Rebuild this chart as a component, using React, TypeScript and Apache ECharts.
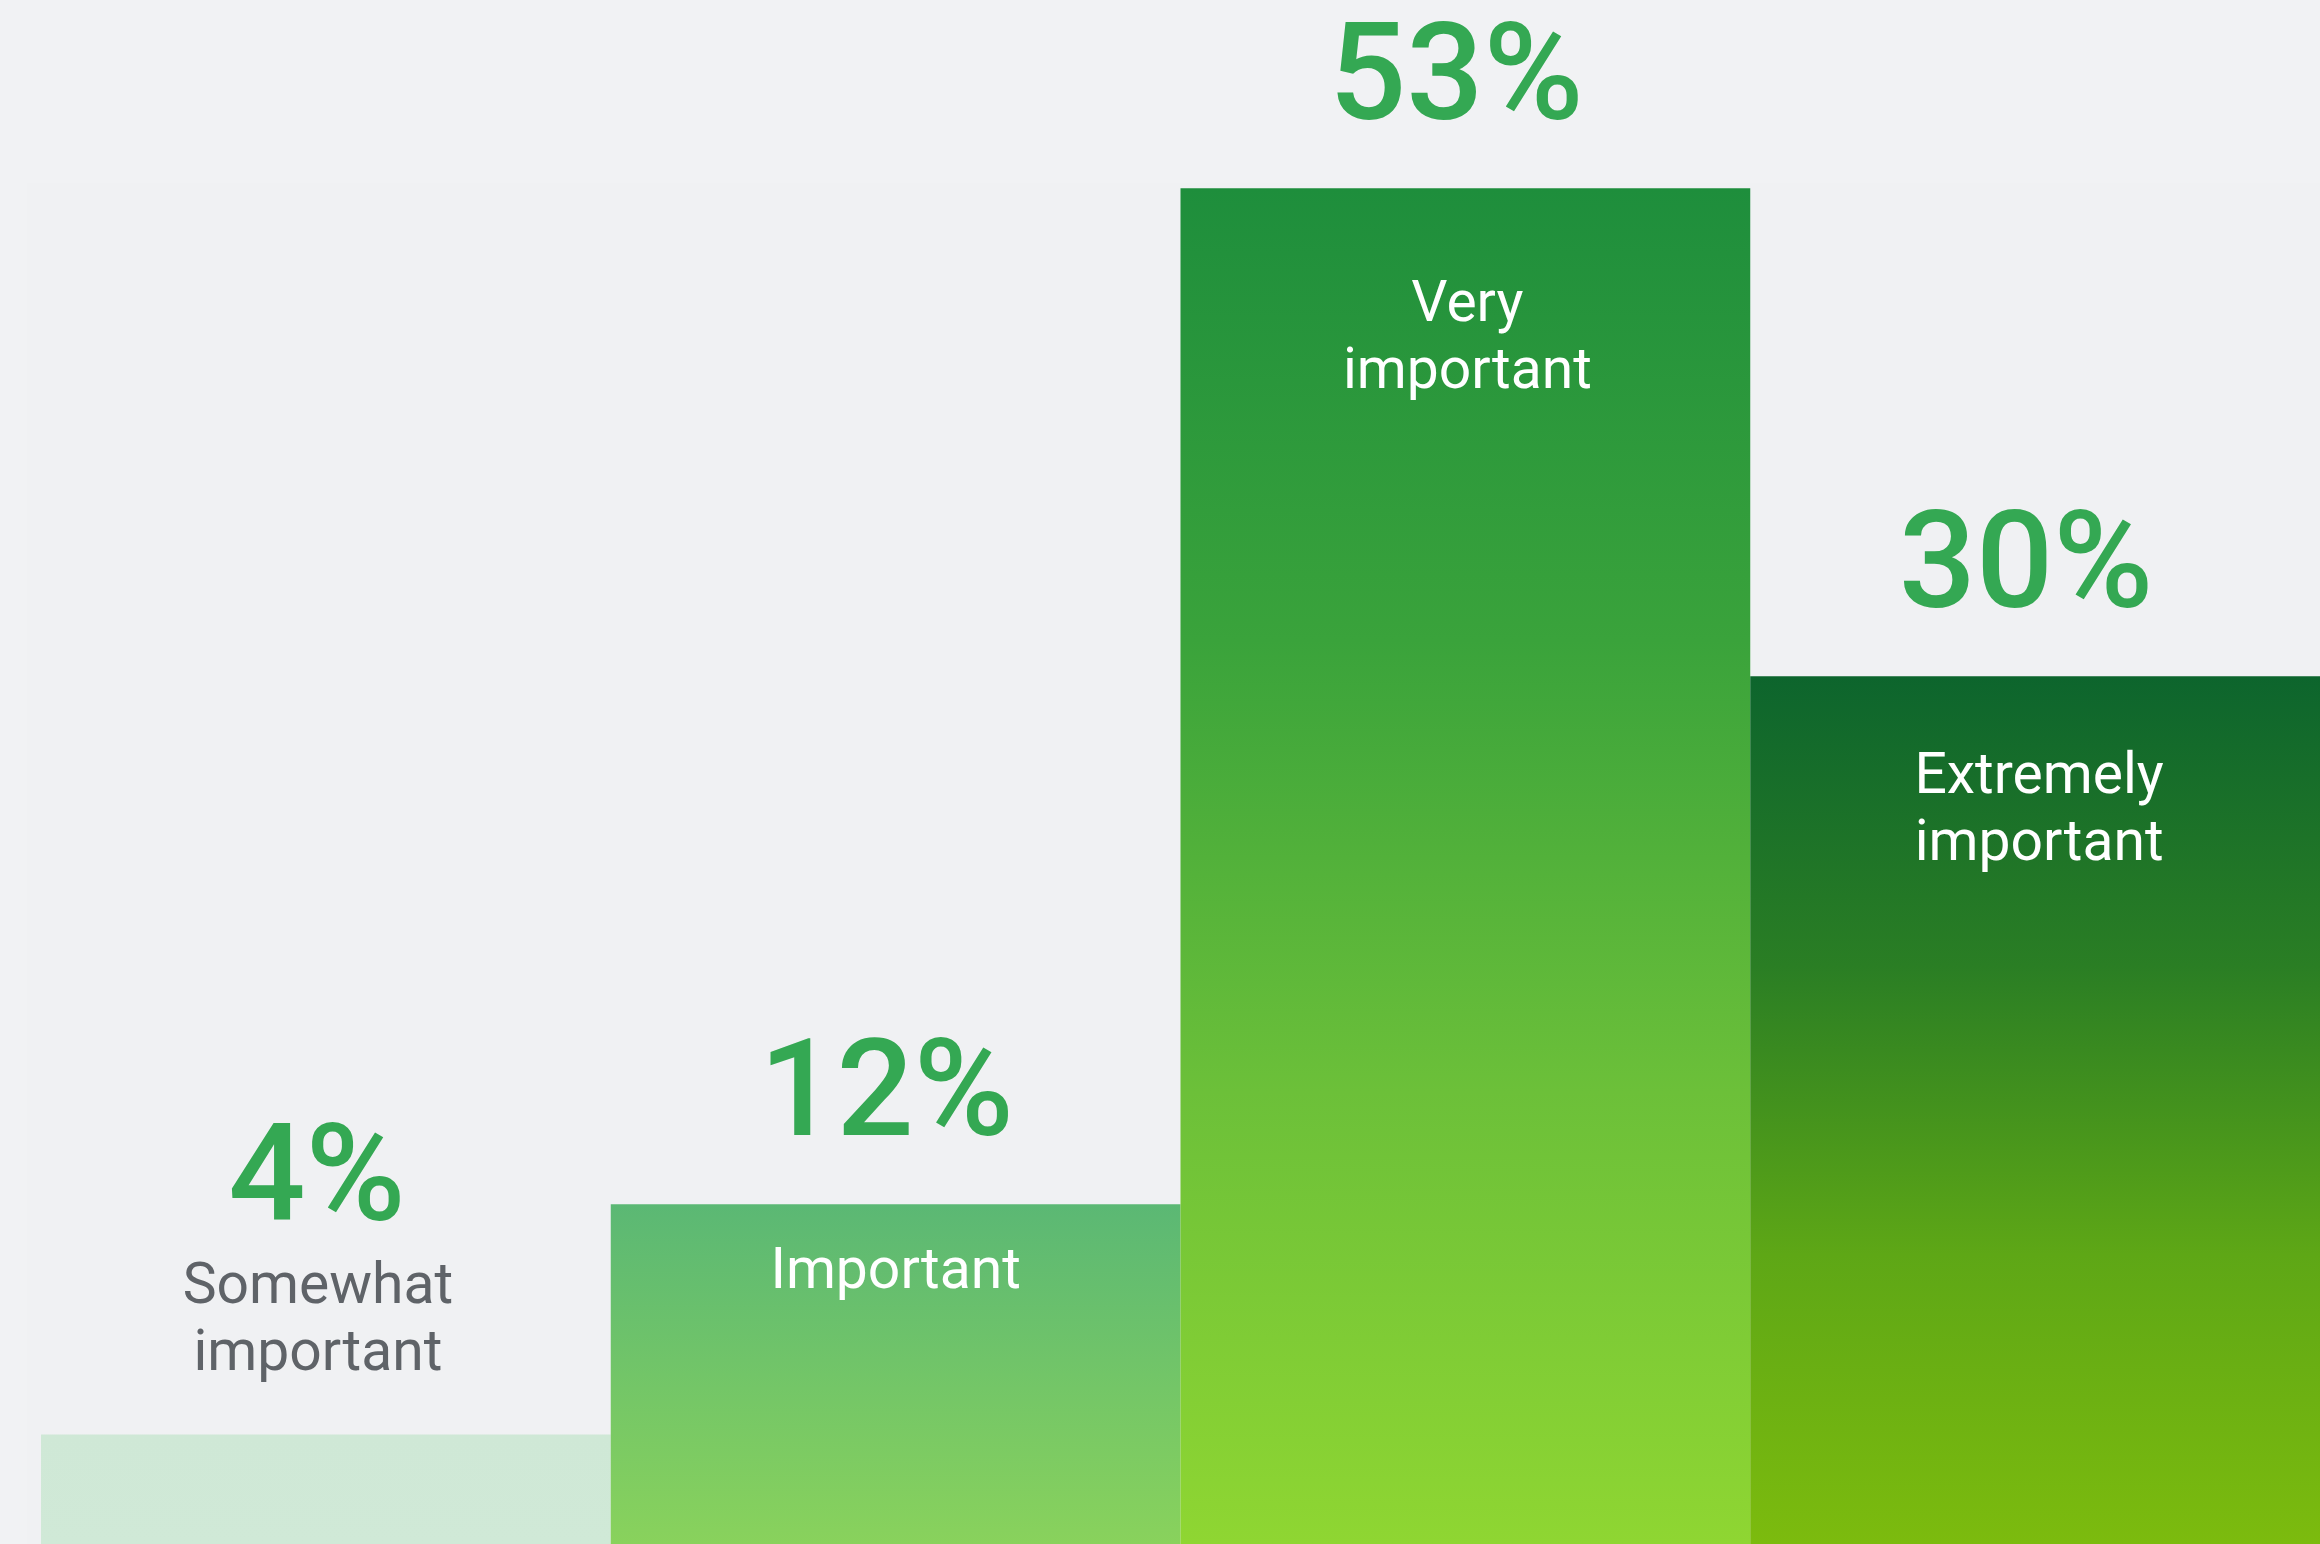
import React, { useEffect, useRef } from "react";
import * as echarts from "echarts";

// ---- Data ----
const categories: string[] = ["Somewhat\nimportant", "Important", "Very\nimportant", "Extremely\nimportant"];
const shares: number[] = [4, 12, 53, 30]; // percentage labels
// Drawn bar heights, as a share (0-100) of the visible chart height (the picture is not drawn to scale)
const barHeights: number[] = [7.1, 22.0, 87.8, 56.2];

// ---- Styles ----
const barGradients: string[][] = [
  ["#cfe8d6", "#d0e9d7"],
  ["#5bb874", "#89d25c"],
  ["#1e8e3c", "#3aa33b", "#6cc039", "#8fd632"],
  ["#0d652d", "#2a7e24", "#5ea716", "#7cbb0e"],
];
const catLabelDistance: number[] = [50, 31, 80, 64];
const catLabelPosition: string[] = ["top", "insideTop", "insideTop", "insideTop"];
const catLabelColor: string[] = ["#5f6368", "#ffffff", "#ffffff", "#ffffff"];
const catLabelShiftX: number[] = [-8, 0, 2, 4];
const pctLabelDistance: number[] = [201, 56, 56, 56];

function grad(stops: string[]) {
  return new echarts.graphic.LinearGradient(
    0,
    0,
    0,
    1,
    stops.map((c, i) => ({ offset: stops.length === 1 ? 0 : i / (stops.length - 1), color: c }))
  );
}

export default function App() {
  const ref = useRef<HTMLDivElement>(null);

  useEffect(() => {
    document.body.style.margin = "0";
    document.body.style.background = "#f1f2f4";
    if (!ref.current) return;
    const chart = echarts.init(ref.current, undefined, { renderer: "svg" });

    const barData = barHeights.map((h, i) => ({
      value: h,
      itemStyle: { color: grad(barGradients[i]) },
      label: {
        show: true,
        position: catLabelPosition[i] as any,
        distance: catLabelDistance[i],
        offset: [catLabelShiftX[i], 0],
        color: catLabelColor[i],
      },
    }));

    const pctData = barHeights.map((h, i) => ({
      value: h,
      label: { show: true, position: "top" as any, distance: pctLabelDistance[i] },
    }));

    chart.setOption({
      animation: false,
      backgroundColor: "#f1f2f4",
      graphic: [
        {
          type: "rect",
          shape: { x: 27, y: 183, width: 2293, height: 1361 },
          style: { fill: "#f0f1f3" },
          z: -10,
          silent: true,
        },
      ],
      grid: { left: 41, right: 0, top: 0, bottom: 0, containLabel: false },
      xAxis: {
        type: "category",
        data: categories,
        show: false,
        boundaryGap: true,
      },
      yAxis: { type: "value", min: 0, max: 100, show: false },
      series: [
        {
          type: "bar",
          data: barData,
          barWidth: "100%",
          barGap: "-100%",
          z: 2,
          label: {
            show: true,
            formatter: (p: any) => categories[p.dataIndex],
            fontFamily: "Roboto",
            fontSize: 57,
            lineHeight: 67,
            fontWeight: 400,
            align: "center",
          },
        },
        {
          type: "bar",
          data: pctData,
          barWidth: "100%",
          barGap: "-100%",
          z: 3,
          itemStyle: { color: "rgba(0,0,0,0)" },
          label: {
            show: true,
            formatter: (p: any) => shares[p.dataIndex] + "%",
            fontFamily: "Roboto",
            fontSize: 136,
            lineHeight: 120,
            fontWeight: 500,
            color: "#34a853",
            offset: [-9, 0],
          },
        },
      ],
    });

    return () => chart.dispose();
  }, []);

  return <div ref={ref} style={{ width: 2320, height: 1544 }} />;
}
